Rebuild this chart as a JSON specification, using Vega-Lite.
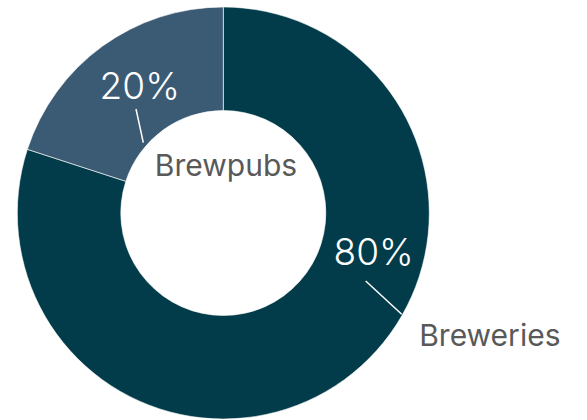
{
  "$schema": "https://vega.github.io/schema/vega-lite/v6.json",
  "width": 446.6,
  "height": 426,
  "autosize": {"type": "none"},
  "padding": {"left": 0, "top": 0, "right": 140.4, "bottom": 0},
  "background": "white",
  "config": {"view": {"stroke": null}, "text": {"font": "Inter"}},
  "data": {"values": [
    {"category": "Breweries", "share": 80, "pct": "80%"},
    {"category": "Brewpubs", "share": 20, "pct": "20%"}
  ]},
  "layer": [
    {
      "mark": {"type": "arc", "outerRadius": 206, "innerRadius": 102.5, "stroke": "#ffffff", "strokeWidth": 0.6},
      "encoding": {
        "theta": {"field": "share", "type": "quantitative", "stack": true},
        "color": {"field": "category", "type": "nominal", "scale": {"domain": ["Breweries", "Brewpubs"], "range": ["#023c4a", "#3b5a74"]}, "legend": null},
        "order": {"field": "category", "sort": "ascending"}
      }
    },
    {
      "mark": {"type": "text", "radius": 159.1, "thetaOffset": -0.6097, "align": "center", "baseline": "alphabetic", "fontSize": 37, "fontWeight": 300, "color": "#ffffff"},
      "encoding": {
        "theta": {"field": "share", "type": "quantitative", "stack": true},
        "detail": {"field": "category"},
        "order": {"field": "category", "sort": "ascending"},
        "text": {"field": "pct"},
        "opacity": {"condition": {"test": "datum.category === 'Breweries'", "value": 1}, "value": 0}
      }
    },
    {
      "mark": {"type": "text", "radius": 141.1, "thetaOffset": -0.0056, "align": "center", "baseline": "alphabetic", "fontSize": 37, "fontWeight": 300, "color": "#ffffff"},
      "encoding": {
        "theta": {"field": "share", "type": "quantitative", "stack": true},
        "detail": {"field": "category"},
        "order": {"field": "category", "sort": "ascending"},
        "text": {"field": "pct"},
        "opacity": {"condition": {"test": "datum.category === 'Brewpubs'", "value": 1}, "value": 0}
      }
    },
    {
      "mark": {"type": "text", "radius": 297.9, "thetaOffset": -0.4796, "align": "center", "baseline": "alphabetic", "fontSize": 30, "color": "#595959"},
      "encoding": {
        "theta": {"field": "share", "type": "quantitative", "stack": true},
        "detail": {"field": "category"},
        "order": {"field": "category", "sort": "ascending"},
        "text": {"field": "category"},
        "opacity": {"condition": {"test": "datum.category === 'Breweries'", "value": 1}, "value": 0}
      }
    },
    {
      "mark": {"type": "text", "radius": 37.1, "thetaOffset": 0.701, "align": "center", "baseline": "alphabetic", "fontSize": 30, "color": "#595959"},
      "encoding": {
        "theta": {"field": "share", "type": "quantitative", "stack": true},
        "detail": {"field": "category"},
        "order": {"field": "category", "sort": "ascending"},
        "text": {"field": "category"},
        "opacity": {"condition": {"test": "datum.category === 'Brewpubs'", "value": 1}, "value": 0}
      }
    },
    {
      "data": {"values": [
        {"category": "Breweries", "x": 142.4, "y": -68, "x2": 178.4, "y2": -101.3},
        {"category": "Brewpubs", "x": -87.3, "y": 104, "x2": -80, "y2": 70.3}
      ]},
      "mark": {"type": "rule", "color": "#ffffff", "strokeWidth": 1.5},
      "encoding": {
        "x": {"field": "x", "type": "quantitative", "scale": {"domain": [-223.3, 223.3]}, "axis": null},
        "y": {"field": "y", "type": "quantitative", "scale": {"domain": [-213, 213]}, "axis": null},
        "x2": {"field": "x2"},
        "y2": {"field": "y2"}
      }
    }
  ]
}
